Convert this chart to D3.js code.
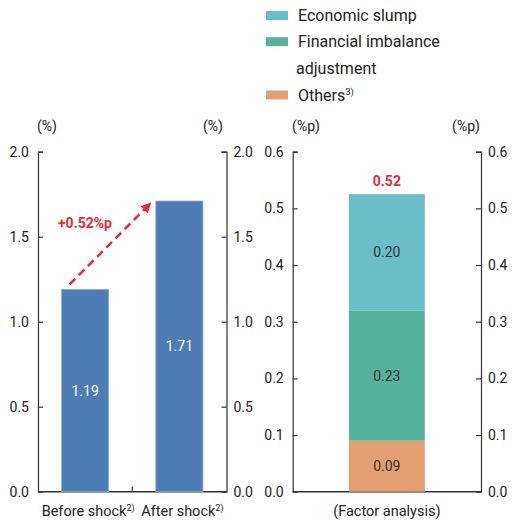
<!DOCTYPE html>
<html><head><meta charset="utf-8">
<script src="https://cdn.jsdelivr.net/npm/d3@7"></script>
<style>
html,body{margin:0;padding:0;background:#fff;}
svg{display:block;}
text{font-family:"Liberation Sans Narrow","Roboto",sans-serif;}
</style></head>
<body>
<svg id="c" width="515" height="522"></svg>
<script>
// ---- data ----
const leftCategories = ["Before shock", "After shock"];
const leftValues = [1.19, 1.71];
const leftLabels = ["1.19", "1.71"];
const leftTicks = [0.0, 0.5, 1.0, 1.5, 2.0];
const changeLabel = "+0.52%p";

const rightCategory = "(Factor analysis)";
const factorNames = ["Others", "Financial imbalance adjustment", "Economic slump"];
const factorValues = [0.09, 0.23, 0.205];
const factorLabels = ["0.09", "0.23", "0.20"];
const totalLabel = "0.52";
const rightTicks = [0.0, 0.1, 0.2, 0.3, 0.4, 0.5, 0.6];
const factorColors = ["#e39e72", "#55b29c", "#6bbdca"];

const svg = d3.select("#c");
const baseY = 491.7, topY = 151.7;
const axisColor = "#333";
const tickFont = "Roboto, sans-serif";

// ---- left chart ----
const lx0 = 38, lx1 = 226.5;
const yL = d3.scaleLinear().domain([0, 2]).range([baseY, topY]);
const xL = d3.scaleBand().domain(leftCategories).range([lx0, lx1]).paddingInner(0.5).paddingOuter(0.25);

function styleAxis(g){
  g.selectAll(".domain").attr("stroke", axisColor).attr("stroke-width", 1.2);
  g.selectAll(".tick line").attr("stroke", axisColor).attr("stroke-width", 1.2);
  g.selectAll(".tick text").attr("fill", "#222").style("font-family", tickFont).style("font-size", "14px");
}

const gLL = svg.append("g").attr("transform", `translate(${lx0},0)`)
  .call(d3.axisLeft(yL).tickValues(leftTicks).tickFormat(d3.format(".1f")).tickSizeInner(-5).tickSizeOuter(-5).tickPadding(9));
styleAxis(gLL);
const gLR = svg.append("g").attr("transform", `translate(${lx1},0)`)
  .call(d3.axisRight(yL).tickValues(leftTicks).tickFormat(d3.format(".1f")).tickSizeInner(-5).tickSizeOuter(-5).tickPadding(7));
styleAxis(gLR);
gLL.selectAll(".tick").filter(d => d === 0).select("line").remove();
gLR.selectAll(".tick").filter(d => d === 0).select("line").remove();

// bottom baseline left
svg.append("line").attr("x1", lx0).attr("x2", lx1).attr("y1", baseY).attr("y2", baseY)
  .attr("stroke", axisColor).attr("stroke-width", 1.4);
svg.append("line").attr("x1", (lx0 + lx1) / 2).attr("x2", (lx0 + lx1) / 2).attr("y1", baseY).attr("y2", baseY - 5)
  .attr("stroke", axisColor).attr("stroke-width", 1.2);

svg.selectAll(".lbar").data(leftValues).enter().append("rect")
  .attr("x", (d, i) => xL(leftCategories[i]))
  .attr("width", xL.bandwidth())
  .attr("y", d => yL(d))
  .attr("height", d => baseY - yL(d))
  .attr("fill", "#4e7db5").attr("stroke", "#8fb0d8").attr("stroke-width", 0.8);

svg.selectAll(".lval").data(leftValues).enter().append("text")
  .attr("x", (d, i) => xL(leftCategories[i]) + xL.bandwidth() / 2)
  .attr("y", d => (yL(d) + baseY) / 2 + 5)
  .attr("text-anchor", "middle").attr("fill", "#fff")
  .style("font-family", tickFont).style("font-size", "14px")
  .text((d, i) => leftLabels[i]);

// category labels with superscripts
leftCategories.forEach((c, i) => {
  const t = svg.append("text")
    .attr("x", xL(c) + xL.bandwidth() / 2 + 3).attr("y", 516)
    .attr("text-anchor", "middle").attr("fill", "#222").style("font-size", "14.5px");
  t.append("tspan").text(c);
  t.append("tspan").attr("dy", -5).style("font-size", "9px").text("2)");
});

// unit labels
svg.append("text").attr("x", 47).attr("y", 131).attr("text-anchor", "middle").attr("fill", "#222").style("font-size", "14px").text("(%)");
svg.append("text").attr("x", 213).attr("y", 131).attr("text-anchor", "middle").attr("fill", "#222").style("font-size", "14px").text("(%)");

// arrow
const arrowRed = "#ee2a32";
svg.append("defs").append("marker").attr("id", "ah").attr("viewBox", "0 0 10 10")
  .attr("refX", 8).attr("refY", 5).attr("markerWidth", 4).attr("markerHeight", 4).attr("orient", "auto")
  .append("path").attr("d", "M0,0 L10,5 L0,10 Z").attr("fill", arrowRed);
const ax0 = xL(leftCategories[0]) + 8, ay0 = yL(leftValues[0]) - 5;
const ax1 = xL(leftCategories[1]) - 6, ay1 = yL(leftValues[1]) + 3;
svg.append("line").attr("x1", ax0).attr("y1", ay0).attr("x2", ax1).attr("y2", ay1)
  .attr("stroke", arrowRed).attr("stroke-width", 2.6).attr("stroke-dasharray", "8,5")
  .attr("marker-end", "url(#ah)");
svg.append("text").attr("x", 85).attr("y", 228).attr("text-anchor", "middle")
  .attr("fill", arrowRed).style("font-family", tickFont).style("font-weight", "bold").style("font-size", "14px")
  .text(changeLabel);

// ---- right chart ----
const rx0 = 292.7, rx1 = 481;
const yR = d3.scaleLinear().domain([0, 0.6]).range([baseY, topY]);
const xR = d3.scaleBand().domain([rightCategory]).range([rx0, rx1]).paddingInner(0).paddingOuter(0.74);

const gRL = svg.append("g").attr("transform", `translate(${rx0},0)`)
  .call(d3.axisLeft(yR).tickValues(rightTicks).tickFormat(d3.format(".1f")).tickSizeInner(-5).tickSizeOuter(-5).tickPadding(9));
styleAxis(gRL);
const gRR = svg.append("g").attr("transform", `translate(${rx1},0)`)
  .call(d3.axisRight(yR).tickValues(rightTicks).tickFormat(d3.format(".1f")).tickSizeInner(-5).tickSizeOuter(-5).tickPadding(7));
styleAxis(gRR);
gRL.selectAll(".tick").filter(d => d === 0).select("line").remove();
gRR.selectAll(".tick").filter(d => d === 0).select("line").remove();
svg.append("line").attr("x1", rx0).attr("x2", rx1).attr("y1", baseY).attr("y2", baseY)
  .attr("stroke", axisColor).attr("stroke-width", 1.4);

let cum = 0;
const stacks = factorValues.map((v, i) => { const s = { y0: cum, y1: cum + v, i }; cum += v; return s; });
svg.selectAll(".seg").data(stacks).enter().append("rect")
  .attr("x", xR(rightCategory)).attr("width", xR.bandwidth())
  .attr("y", d => yR(d.y1)).attr("height", d => yR(d.y0) - yR(d.y1))
  .attr("fill", d => factorColors[d.i]);
svg.selectAll(".segl").data(stacks).enter().append("text")
  .attr("x", xR(rightCategory) + xR.bandwidth() / 2)
  .attr("y", d => (yR(d.y0) + yR(d.y1)) / 2 + 5)
  .attr("text-anchor", "middle").attr("fill", "#333")
  .style("font-family", tickFont).style("font-size", "14px")
  .text(d => factorLabels[d.i]);
svg.append("text").attr("x", xR(rightCategory) + xR.bandwidth() / 2).attr("y", yR(cum) - 8)
  .attr("text-anchor", "middle").attr("fill", arrowRed)
  .style("font-family", tickFont).style("font-weight", "bold").style("font-size", "14px").text(totalLabel);

svg.append("text").attr("x", xR(rightCategory) + xR.bandwidth() / 2).attr("y", 516)
  .attr("text-anchor", "middle").attr("fill", "#222").style("font-size", "14.5px").text(rightCategory);

svg.append("text").attr("x", 306).attr("y", 131).attr("text-anchor", "middle").attr("fill", "#222").style("font-size", "14px").text("(%p)");
svg.append("text").attr("x", 466).attr("y", 131).attr("text-anchor", "middle").attr("fill", "#222").style("font-size", "14px").text("(%p)");

// ---- legend ----
const legendItems = [
  { name: "Economic slump", color: factorColors[2], y: 15.5, lines: ["Economic slump"] },
  { name: "Financial imbalance adjustment", color: factorColors[1], y: 41.7, lines: ["Financial imbalance", "adjustment"] },
  { name: "Others", color: factorColors[0], y: 95, lines: ["Others"], sup: "3)" }
];
const lg = svg.append("g");
legendItems.forEach(it => {
  lg.append("rect").attr("x", 266).attr("y", it.y - 4.5).attr("width", 22).attr("height", 9).attr("fill", it.color);
  it.lines.forEach((ln, k) => {
    const t = lg.append("text").attr("x", k === 0 ? 298 : 296).attr("y", it.y + 5.5 + k * 26.6)
      .attr("fill", "#222").style("font-family", "Roboto, sans-serif").style("font-size", "16px").text(ln);
    if (it.sup) t.append("tspan").attr("dy", -6).style("font-size", "9.5px").text(it.sup);
  });
});
</script>
</body></html>
